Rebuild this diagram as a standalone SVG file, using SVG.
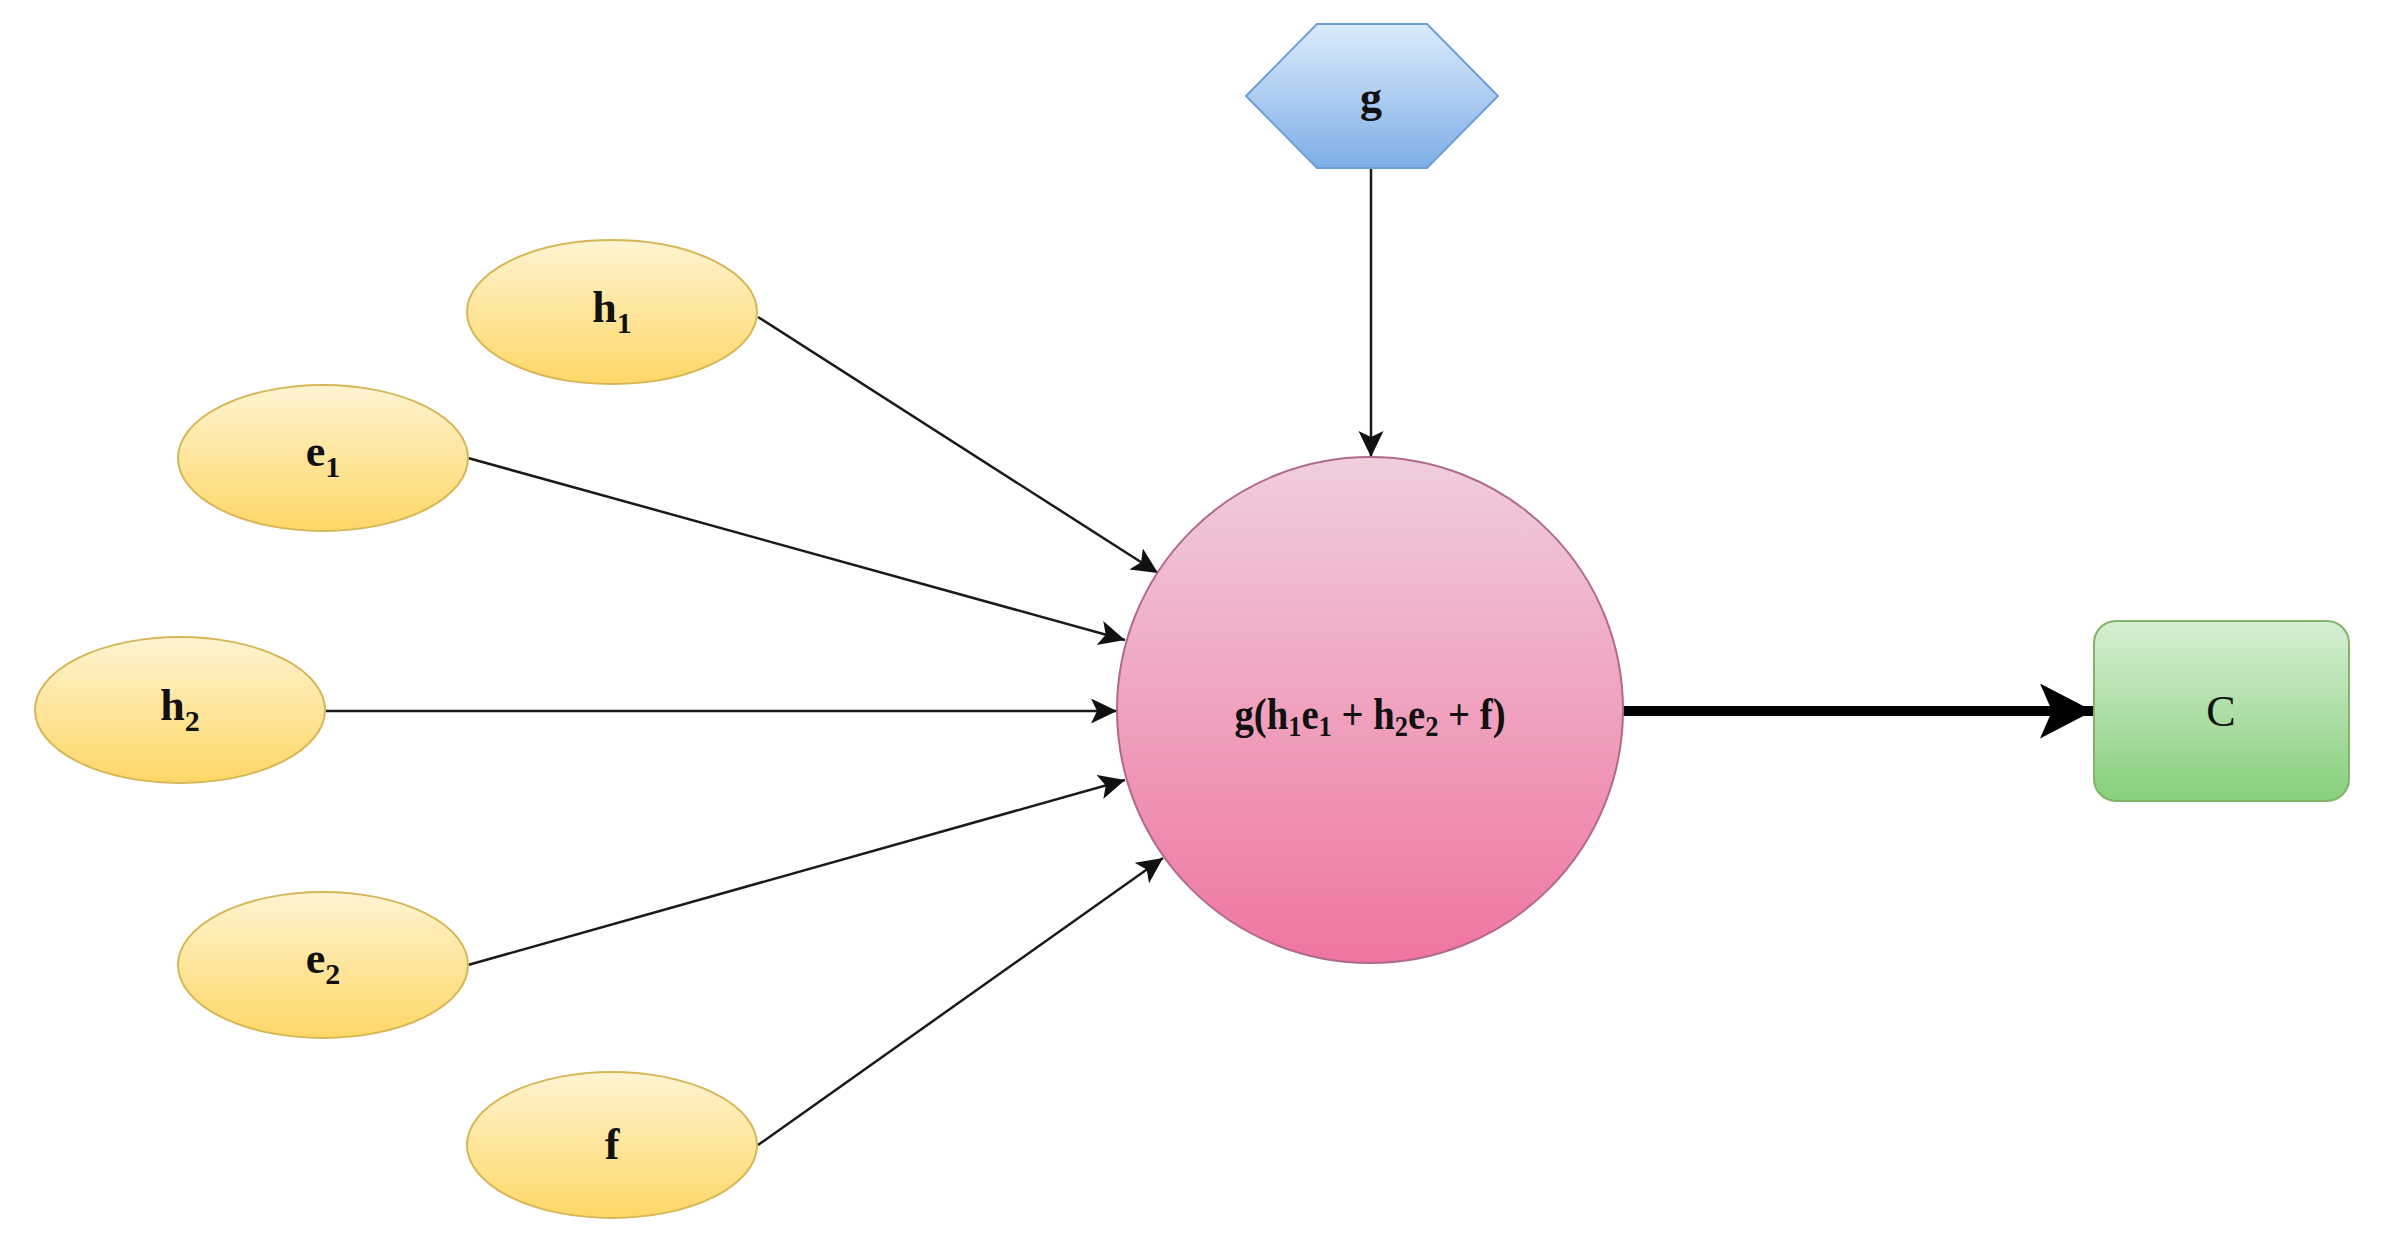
<svg xmlns="http://www.w3.org/2000/svg" width="2392" height="1257" viewBox="0 0 2392 1257">
  <defs>
    <linearGradient id="gYellow" x1="0" y1="0" x2="0" y2="1">
      <stop offset="0" stop-color="#fff4d2"/>
      <stop offset="1" stop-color="#fed766"/>
    </linearGradient>
    <linearGradient id="gBlue" x1="0" y1="0" x2="0" y2="1">
      <stop offset="0" stop-color="#dcebfd"/>
      <stop offset="1" stop-color="#7eaee6"/>
    </linearGradient>
    <linearGradient id="gPink" x1="0" y1="0" x2="0" y2="1">
      <stop offset="0" stop-color="#f0cedd"/>
      <stop offset="1" stop-color="#ef75a0"/>
    </linearGradient>
    <linearGradient id="gGreen" x1="0" y1="0" x2="0" y2="1">
      <stop offset="0" stop-color="#d6eed3"/>
      <stop offset="1" stop-color="#86d07b"/>
    </linearGradient>
    <marker id="arrowThin" markerUnits="userSpaceOnUse" markerWidth="28" markerHeight="26" refX="26" refY="12.5" orient="auto" viewBox="0 0 28 26">
      <path d="M0,0 L26,12.5 L0,25 L6,12.5 Z" fill="#111"/>
    </marker>
    <marker id="arrowBig" markerUnits="userSpaceOnUse" markerWidth="56" markerHeight="56" refX="53" refY="27.5" orient="auto" viewBox="0 0 56 56">
      <path d="M0,0 L53,27.5 L0,55 L12,27.5 Z" fill="#000"/>
    </marker>
  </defs>
  <style>
    .ell { fill: url(#gYellow); stroke: #d6b656; stroke-width: 2; }
    .lbl { font-family: "Liberation Serif", "Times New Roman", serif; font-weight: bold; font-size: 44px; fill: #111; text-anchor: middle; }
    .sub { font-size: 30px; }
    .edge { stroke: #1a1a1a; stroke-width: 2.5; fill: none; marker-end: url(#arrowThin); }
    .edgeBig { stroke: #000; stroke-width: 10; fill: none; marker-end: url(#arrowBig); }
  </style>

  <g id="connectors">
    <line class="edge" x1="758" y1="317" x2="1158" y2="573"/>
    <line class="edge" x1="468" y1="458" x2="1125" y2="640"/>
    <line class="edge" x1="325" y1="711" x2="1117" y2="711"/>
    <line class="edge" x1="468" y1="965" x2="1125" y2="780"/>
    <line class="edge" x1="758" y1="1145" x2="1163" y2="858"/>
    <line class="edge" x1="1371" y1="168" x2="1371" y2="457"/>
    <line class="edgeBig" x1="1623" y1="711" x2="2093" y2="711"/>
  </g>

  <g id="node-g">
    <polygon points="1246,96 1317,24 1427,24 1498,96 1427,168 1317,168" fill="url(#gBlue)" stroke="#6c9fd8" stroke-width="2"/>
    <text class="lbl" x="1371" y="112">g</text>
  </g>

  <g id="node-h1">
    <ellipse class="ell" cx="612" cy="312" rx="145" ry="72"/>
    <text class="lbl" x="612" y="322">h<tspan class="sub" dy="11">1</tspan></text>
  </g>

  <g id="node-e1">
    <ellipse class="ell" cx="323" cy="458" rx="145" ry="73"/>
    <text class="lbl" x="323" y="466">e<tspan class="sub" dy="11">1</tspan></text>
  </g>

  <g id="node-h2">
    <ellipse class="ell" cx="180" cy="710" rx="145" ry="73"/>
    <text class="lbl" x="180" y="720">h<tspan class="sub" dy="11">2</tspan></text>
  </g>

  <g id="node-e2">
    <ellipse class="ell" cx="323" cy="965" rx="145" ry="73"/>
    <text class="lbl" x="323" y="973">e<tspan class="sub" dy="11">2</tspan></text>
  </g>

  <g id="node-f">
    <ellipse class="ell" cx="612" cy="1145" rx="145" ry="73"/>
    <text class="lbl" x="612" y="1159">f</text>
  </g>

  <g id="node-sum">
    <circle cx="1370" cy="710" r="253" fill="url(#gPink)" stroke="#b06a8e" stroke-width="2"/>
    <text class="lbl" transform="translate(1370,729) scale(0.88,1)" x="0" y="0" font-size="50">g(h<tspan class="sub" dy="7">1</tspan><tspan dy="-7">e</tspan><tspan class="sub" dy="7">1</tspan><tspan dy="-7"> + h</tspan><tspan class="sub" dy="7">2</tspan><tspan dy="-7">e</tspan><tspan class="sub" dy="7">2</tspan><tspan dy="-7"> + f)</tspan></text>
  </g>

  <g id="node-C">
    <rect x="2094" y="621" width="255" height="180" rx="22" ry="22" fill="url(#gGreen)" stroke="#82b366" stroke-width="2"/>
    <text class="lbl" x="2221" y="726" style="font-weight:normal">C</text>
  </g>
</svg>
